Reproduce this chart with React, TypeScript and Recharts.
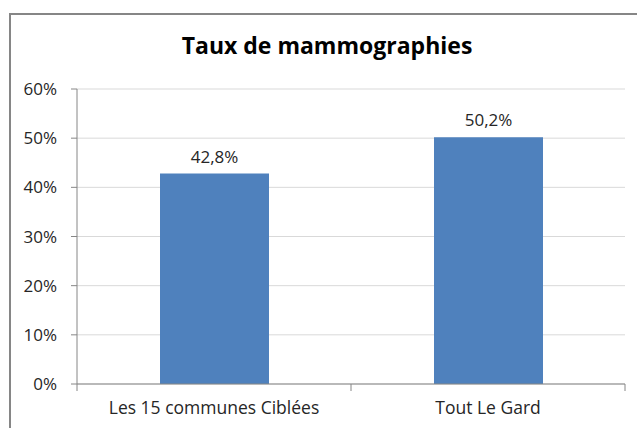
import React from "react";
import { BarChart, Bar, XAxis, YAxis, CartesianGrid, LabelList } from "recharts";

const categories = ["Les 15 communes Ciblées", "Tout Le Gard"];
const rates = [42.8, 50.2];
const yTicks = [0, 10, 20, 30, 40, 50, 60];

const data = categories.map((name, i) => ({ name, value: rates[i] }));

const FONT = "'Open Sans', Lato, sans-serif";
const BAND = 274;

function CategoryTick(props: any) {
  const { x, y, payload, index } = props;
  const left = x - BAND / 2;
  return (
    <g>
      <line x1={left} y1={y - 8} x2={left} y2={y - 1} stroke="#868686" />
      {index === categories.length - 1 && (
        <line x1={x + BAND / 2} y1={y - 8} x2={x + BAND / 2} y2={y - 1} stroke="#868686" />
      )}
      <text x={x} y={y + 22} textAnchor="middle" fill="#262626" fontSize={17.5} fontFamily={FONT}>
        {payload.value}
      </text>
    </g>
  );
}

export default function App() {
  return (
    <div style={{ position: "absolute", left: 0, top: 0, width: 637, height: 428, background: "#fff", overflow: "hidden" }}>
      <div
        style={{
          position: "absolute",
          left: 9,
          top: 13,
          width: 700,
          height: 500,
          borderLeft: "2px solid #868686",
          borderTop: "2px solid #868686",
        }}
      />
      <div
        style={{
          position: "absolute",
          left: 0,
          top: 29,
          width: 654,
          textAlign: "center",
          fontFamily: FONT,
          fontWeight: 700,
          fontSize: 23,
          color: "#000",
        }}
      >
        Taux de mammographies
      </div>
      <div style={{ position: "absolute", left: 0, top: 0 }}>
        <BarChart width={637} height={428} data={data} margin={{ top: 89, right: 12, bottom: 14, left: 17 }} barCategoryGap="20%">
          <CartesianGrid vertical={false} stroke="#d9d9d9" />
          <XAxis
            dataKey="name"
            height={30}
            axisLine={{ stroke: "#868686" }}
            tickLine={false}
            tick={<CategoryTick />}
            interval={0}
          />
          <YAxis
            width={60}
            domain={[0, 60]}
            ticks={yTicks}
            interval={0}
            tickFormatter={(v: number) => `${v}%`}
            axisLine={{ stroke: "#868686" }}
            tickLine={{ stroke: "#868686" }}
            tickSize={6}
            tickMargin={14}
            tick={{ fill: "#262626", fontSize: 17, fontFamily: FONT }}
          />
          <Bar dataKey="value" fill="#4F81BD" barSize={109} isAnimationActive={false}>
            <LabelList
              dataKey="value"
              position="top"
              offset={11}
              formatter={(v: any) => `${String(v).replace(".", ",")}%`}
              style={{ fill: "#262626", fontSize: 17, fontFamily: FONT }}
            />
          </Bar>
        </BarChart>
      </div>
    </div>
  );
}
